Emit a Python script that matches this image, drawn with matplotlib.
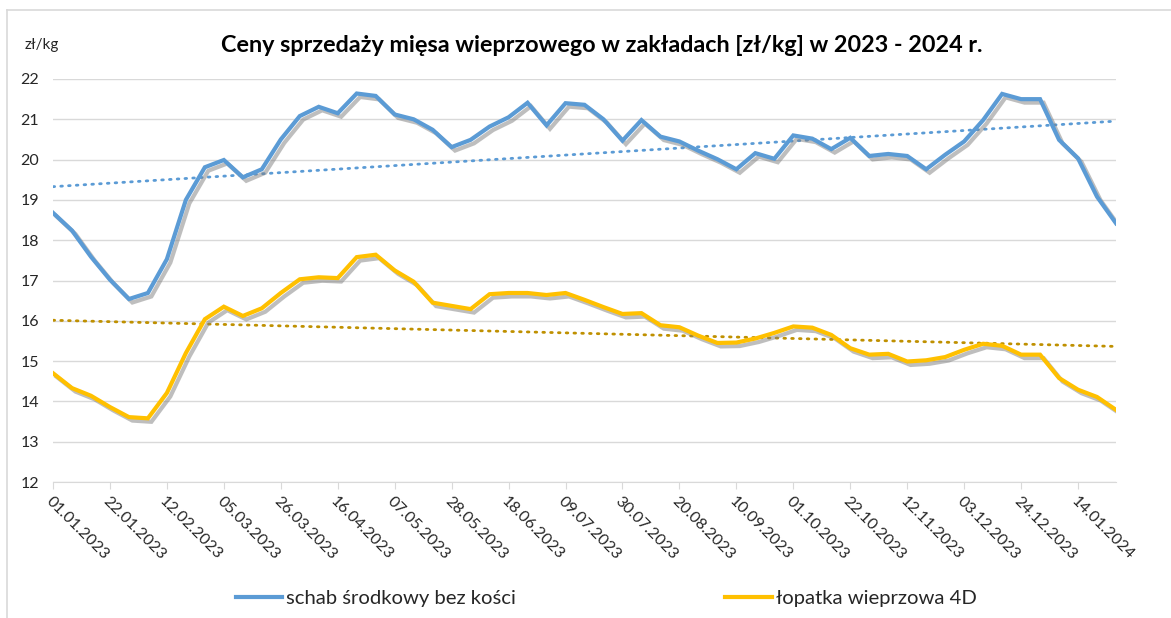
import numpy as np
import pandas as pd
import matplotlib
matplotlib.use("Agg")
import matplotlib.pyplot as plt
import matplotlib.patheffects as pe
from matplotlib.lines import Line2D

plt.rcParams['font.family'] = ['Lato', 'DejaVu Sans']

# weekly prices, 01.01.2023 - 28.01.2024
weeks = pd.date_range("2023-01-01", periods=57, freq="7D")

schab = [18.68, 18.24, 17.59, 17.02, 16.54, 16.69, 17.53, 19.00, 19.81, 19.99,
         19.56, 19.76, 20.50, 21.08, 21.31, 21.15, 21.64, 21.58, 21.12, 21.00,
         20.74, 20.31, 20.49, 20.82, 21.05, 21.41, 20.85, 21.40, 21.36, 21.00,
         20.47, 20.98, 20.57, 20.45, 20.22, 20.01, 19.76, 20.16, 20.02, 20.60,
         20.52, 20.26, 20.54, 20.09, 20.14, 20.09, 19.76, 20.12, 20.45, 20.98,
         21.63, 21.50, 21.50, 20.49, 20.03, 19.08, 18.42]

lopatka = [14.70, 14.33, 14.14, 13.86, 13.61, 13.58, 14.21, 15.20, 16.04, 16.35,
           16.12, 16.31, 16.69, 17.03, 17.08, 17.06, 17.58, 17.64, 17.25, 16.97,
           16.45, 16.37, 16.29, 16.66, 16.69, 16.69, 16.64, 16.69, 16.52, 16.34,
           16.17, 16.19, 15.89, 15.84, 15.63, 15.45, 15.46, 15.56, 15.70, 15.86,
           15.83, 15.65, 15.32, 15.16, 15.18, 14.99, 15.02, 15.10, 15.28, 15.43,
           15.38, 15.16, 15.16, 14.58, 14.29, 14.11, 13.79]

names = ["schab środkowy bez kości", "łopatka wieprzowa 4D"]
colors = ["#5B9BD5", "#FFC000"]
trend_colors = ["#5B9BD5", "#BF9000"]

fig = plt.figure(figsize=(11.71, 6.18), dpi=100)
ax = fig.add_axes([53 / 1171, 1 - 482 / 618, (1116 - 53) / 1171, (482 - 79) / 618])

x = np.arange(len(weeks))
shadow = [pe.SimpleLineShadow(offset=(2.5, -2.5), shadow_color="#7f7f7f", alpha=0.5),
          pe.Normal()]

for vals, c, tc in zip([schab, lopatka], colors, trend_colors):
    k, b = np.polyfit(x, vals, 1)
    ax.plot(x, k * x + b, color=tc, lw=2, linestyle=(0, (0.6, 2.2)),
            dash_capstyle="round", zorder=2)
    ax.plot(x, vals, color=c, lw=3, solid_joinstyle="miter", zorder=3,
            path_effects=shadow)

ax.set_xlim(0, len(weeks) - 1)
ax.set_ylim(12, 22)
ax.set_yticks(np.arange(12, 23, 1))
ax.yaxis.grid(True, color="#D9D9D9", lw=1)
ax.set_axisbelow(True)

tick_pos = x[::3]
ax.set_xticks(tick_pos)
ax.set_xticklabels([d.strftime("%d.%m.%Y") for d in weeks[::3]],
                   rotation=-45, ha="left", va="top", rotation_mode="anchor",
                   fontsize=11.5, color="#262626")
ax.tick_params(axis="x", length=5, color="#D9D9D9", pad=4)
ax.tick_params(axis="y", length=0, labelsize=11.5, labelcolor="#262626", pad=10)

for s in ["top", "right", "left"]:
    ax.spines[s].set_visible(False)
ax.spines["bottom"].set_color("#D9D9D9")

fig.text(602 / 1171, 1 - 45 / 618, "Ceny sprzedaży mięsa wieprzowego w zakładach [zł/kg] w 2023 - 2024 r.",
         ha="center", va="center", fontsize=16.8, fontweight="bold", color="#000000")
fig.text(25 / 1171, 1 - 45 / 618, "zł/kg", ha="left", va="center", fontsize=11, color="#262626")

handles = [Line2D([], [], color=c, lw=3) for c in colors]
fig.legend(handles, names, loc="center", bbox_to_anchor=(606 / 1171, 1 - 598 / 618), ncol=2,
           frameon=False, fontsize=14.6, handlelength=2.3, handletextpad=0.2,
           columnspacing=10.3, labelcolor="#262626")

# chart frame
fig.add_artist(Line2D([7 / 1171, 7 / 1171], [0, 1 - 10 / 618], color="#D9D9D9", lw=1.2))
fig.add_artist(Line2D([7 / 1171, 1], [1 - 10 / 618, 1 - 10 / 618], color="#D9D9D9", lw=1.2))

fig.savefig("out.png", dpi=100)
